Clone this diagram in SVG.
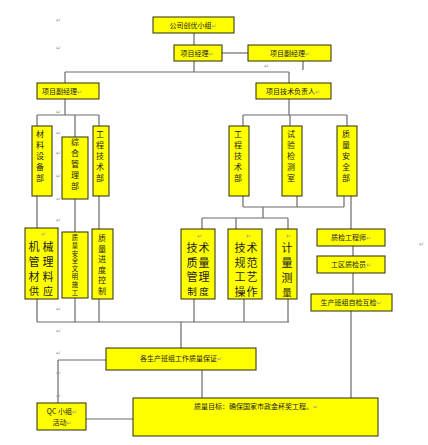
<svg xmlns="http://www.w3.org/2000/svg" width="428" height="445" viewBox="0 0 428 445">
<style>
.b{fill:#FFFF00;stroke:#2b2b10;stroke-width:1}
.c line{stroke:#6a6a6a;stroke-width:1.2}
text{font-family:"Noto Sans CJK SC","DejaVu Sans",sans-serif;fill:#1a1a1a}
.h{font-size:7px;text-anchor:middle}
.v8{font-size:8px;text-anchor:middle}
.v7{font-size:6.3px;text-anchor:middle}
.v11{font-size:11px;text-anchor:middle}
.pm{font-size:6px;fill:#9a9a9a;font-family:"DejaVu Sans",sans-serif}
</style>
<rect width="428" height="445" fill="#ffffff"/>
<g class="c" id="connectors">
<line x1="194" y1="33" x2="194" y2="45"/>
<line x1="222" y1="53" x2="248" y2="53"/>
<line x1="303" y1="61" x2="303" y2="70"/>
<line x1="194" y1="61" x2="194" y2="72"/>
<line x1="65" y1="72" x2="289" y2="72"/>
<line x1="65" y1="72" x2="65" y2="83"/>
<line x1="289" y1="72" x2="289" y2="83"/>
<line x1="65" y1="99" x2="65" y2="115"/>
<line x1="37" y1="115" x2="99" y2="115"/>
<line x1="37" y1="115" x2="37" y2="126"/>
<line x1="75" y1="115" x2="75" y2="137"/>
<line x1="99" y1="115" x2="99" y2="126"/>
<line x1="289" y1="99" x2="289" y2="115"/>
<line x1="243" y1="115" x2="347" y2="115"/>
<line x1="243" y1="115" x2="243" y2="126"/>
<line x1="290" y1="115" x2="290" y2="126"/>
<line x1="347" y1="115" x2="347" y2="126"/>
<line x1="37" y1="196" x2="37" y2="228"/>
<line x1="75" y1="199" x2="75" y2="232"/>
<line x1="99" y1="196" x2="99" y2="229"/>
<line x1="243" y1="196" x2="243" y2="207"/>
<line x1="297" y1="196" x2="297" y2="207"/>
<line x1="344" y1="196" x2="344" y2="207"/>
<line x1="243" y1="207" x2="344" y2="207"/>
<line x1="351" y1="196" x2="351" y2="229"/>
<line x1="263" y1="207" x2="263" y2="218"/>
<line x1="202" y1="218" x2="288" y2="218"/>
<line x1="202" y1="218" x2="202" y2="229"/>
<line x1="236" y1="218" x2="236" y2="229"/>
<line x1="288" y1="218" x2="288" y2="229"/>
<line x1="37" y1="299" x2="37" y2="322"/>
<line x1="75" y1="298" x2="75" y2="322"/>
<line x1="99" y1="299" x2="99" y2="322"/>
<line x1="194" y1="299" x2="194" y2="322"/>
<line x1="244" y1="299" x2="244" y2="322"/>
<line x1="288" y1="299" x2="288" y2="322"/>
<line x1="37" y1="322" x2="289" y2="322"/>
<line x1="181" y1="322" x2="181" y2="348"/>
<line x1="353" y1="246" x2="353" y2="256"/>
<line x1="353" y1="273" x2="353" y2="294"/>
<line x1="351" y1="311" x2="351" y2="398"/>
<line x1="58" y1="360" x2="106" y2="360"/>
<line x1="58" y1="360" x2="58" y2="403"/>
<line x1="202" y1="370" x2="202" y2="398"/>
<line x1="86" y1="419" x2="133" y2="419"/>
</g>
<g id="n_company"><rect class="b" x="153" y="17" width="81" height="16"/><text class="h" x="193" y="28">公司创优小组<tspan class="pm">↵</tspan></text></g>
<g id="n_pm"><rect class="b" x="174" y="45" width="48" height="16"/><text class="h" x="197" y="56">项目经理<tspan class="pm">↵</tspan></text></g>
<g id="n_dpm_top"><rect class="b" x="248" y="45" width="83" height="16"/><text class="h" x="290" y="56">项目副经理<tspan class="pm">↵</tspan></text></g>
<g id="n_dpm_left"><rect class="b" x="37" y="83" width="62" height="16"/><text class="h" x="62" y="94">项目副经理<tspan class="pm">↵</tspan></text></g>
<g id="n_techlead"><rect class="b" x="256" y="83" width="75" height="16"/><text class="h" x="293" y="94">项目技术负责人<tspan class="pm">↵</tspan></text></g>
<g id="n_material"><rect class="b" x="32" y="126" width="20" height="70"/><text class="v8" x="40" y="137">材<tspan x="40" dy="11">料</tspan><tspan x="40" dy="11">设</tspan><tspan x="40" dy="11">备</tspan><tspan x="40" dy="11">部</tspan></text></g>
<g id="n_general"><rect class="b" x="62" y="137" width="26" height="62"/><text class="v8" x="75" y="145">综<tspan x="75" dy="11">合</tspan><tspan x="75" dy="11">管</tspan><tspan x="75" dy="11">理</tspan><tspan x="75" dy="10.5">部</tspan></text></g>
<g id="n_eng_left"><rect class="b" x="93" y="126" width="16" height="70"/><text class="v8" x="100" y="137">工<tspan x="100" dy="11">程</tspan><tspan x="100" dy="11">技</tspan><tspan x="100" dy="11">术</tspan><tspan x="100" dy="11">部</tspan></text></g>
<g id="n_eng_right"><rect class="b" x="229" y="126" width="20" height="70"/><text class="v8" x="238" y="137">工<tspan x="238" dy="11">程</tspan><tspan x="238" dy="11">技</tspan><tspan x="238" dy="11">术</tspan><tspan x="238" dy="11">部</tspan></text></g>
<g id="n_test"><rect class="b" x="282" y="126" width="20" height="70"/><text class="v8" x="291" y="137">试<tspan x="291" dy="11">验</tspan><tspan x="291" dy="11">检</tspan><tspan x="291" dy="11">测</tspan><tspan x="291" dy="11">室</tspan></text></g>
<g id="n_safety"><rect class="b" x="337" y="126" width="20" height="70"/><text class="v8" x="346" y="137">质<tspan x="346" dy="11">量</tspan><tspan x="346" dy="11">安</tspan><tspan x="346" dy="11">全</tspan><tspan x="346" dy="11">部</tspan></text></g>
<g id="n_machine"><rect class="b" x="25" y="228" width="33" height="71"/><text class="v11" x="34" y="251">机<tspan x="48" dy="0">械</tspan><tspan x="34" dy="15">管</tspan><tspan x="48" dy="0">理</tspan><tspan x="34" dy="14.5">材</tspan><tspan x="48" dy="0">料</tspan><tspan x="34" dy="14" font-size="10">供</tspan><tspan x="48" dy="0" font-size="10">应</tspan></text></g>
<g id="n_civil"><rect class="b" x="62" y="232" width="26" height="66"/><text class="v7" x="75" y="240">质<tspan x="75" dy="7.8">量</tspan><tspan x="75" dy="7.8">安</tspan><tspan x="75" dy="7.8">全</tspan><tspan x="75" dy="7.8">文</tspan><tspan x="75" dy="7.8">明</tspan><tspan x="75" dy="7.8">施</tspan><tspan x="75" dy="7.8">工</tspan></text></g>
<g id="n_progress"><rect class="b" x="92" y="229" width="21" height="70"/><text class="v8" x="102" y="241">质<tspan x="102" dy="10.6">量</tspan><tspan x="102" dy="10.6">进</tspan><tspan x="102" dy="10.6">度</tspan><tspan x="102" dy="10.6">控</tspan><tspan x="102" dy="10.6">制</tspan></text></g>
<g id="n_techsys"><rect class="b" x="181" y="229" width="34" height="70"/><text class="v11" x="192" y="252">技<tspan x="204" dy="0">术</tspan><tspan x="192" dy="14.5">质</tspan><tspan x="204" dy="0">量</tspan><tspan x="192" dy="14.5">管</tspan><tspan x="204" dy="0">理</tspan><tspan x="192" dy="14" font-size="9.5">制</tspan><tspan x="204" dy="0" font-size="9.5">度</tspan></text></g>
<g id="n_techspec"><rect class="b" x="228" y="229" width="34" height="70"/><text class="v11" x="240" y="252">技<tspan x="252" dy="0">术</tspan><tspan x="240" dy="14.5">规</tspan><tspan x="252" dy="0">范</tspan><tspan x="240" dy="14.5">工</tspan><tspan x="252" dy="0">艺</tspan><tspan x="240" dy="14.5">操</tspan><tspan x="252" dy="0">作</tspan></text></g>
<g id="n_measure"><rect class="b" x="276" y="229" width="21" height="70"/><text class="v11" x="287" y="252">计<tspan x="287" dy="15">量</tspan><tspan x="287" dy="14.5">测</tspan><tspan x="287" dy="14" font-size="9.5">量</tspan></text></g>
<g id="n_qe"><rect class="b" x="317" y="229" width="68" height="17"/><text class="h" x="351" y="240">质检工程师<tspan class="pm">↵</tspan></text></g>
<g id="n_qi"><rect class="b" x="317" y="256" width="68" height="17"/><text class="h" x="351" y="267">工区质检员<tspan class="pm">↵</tspan></text></g>
<g id="n_selfcheck"><rect class="b" x="311" y="294" width="81" height="17"/><text class="h" x="351" y="305">生产班组自检互检<tspan class="pm">↵</tspan></text></g>
<g id="n_teams"><rect class="b" x="106" y="348" width="150" height="22"/><text class="h" x="181" y="361">各生产班组工作质量保证<tspan class="pm">↵</tspan></text></g>
<g id="n_qc"><rect class="b" x="37" y="403" width="49" height="27"/><text class="h" x="62" y="414">QC 小组<tspan class="pm">↵</tspan></text><text class="h" x="62" y="425">活动<tspan class="pm">↵</tspan></text></g>
<g id="n_goal"><rect class="b" x="133" y="398" width="245" height="38"/><text class="h" x="256" y="409">质量目标：确保国家市政金杯奖工程。<tspan class="pm">↵</tspan></text></g>
<g id="marks">
<text class="pm" x="56" y="22">↵</text>
<text class="pm" x="56" y="50">↵</text>
<text class="pm" x="264" y="68">↵</text>
<text class="pm" x="56" y="114">↵</text>
<text class="pm" x="56" y="135">↵</text>
<text class="pm" x="56" y="155">↵</text>
<text class="pm" x="56" y="178">↵</text>
<text class="pm" x="56" y="201">↵</text>
<text class="pm" x="56" y="222">↵</text>
<text class="pm" x="41" y="236">↵</text>
<text class="pm" x="197" y="238">↵</text>
<text class="pm" x="246" y="238">↵</text>
<text class="pm" x="286" y="238">↵</text>
<text class="pm" x="419" y="246">↵</text>
<text class="pm" x="56" y="311">↵</text>
<text class="pm" x="56" y="333">↵</text>
<text class="pm" x="56" y="355">↵</text>
<text class="pm" x="56" y="375">↵</text>
<text class="pm" x="56" y="398">↵</text>
</g>
</svg>
